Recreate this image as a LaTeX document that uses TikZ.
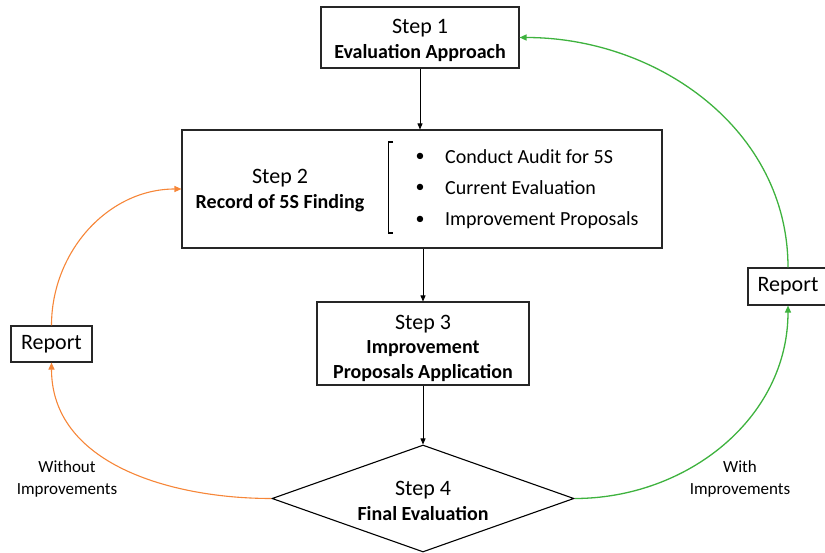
\documentclass[tikz,border=0pt]{standalone}
\usepackage{fontspec}
\setmainfont{Carlito}
\usetikzlibrary{shapes.geometric,arrows.meta}
\definecolor{orng}{RGB}{246,134,56}
\definecolor{grn}{RGB}{62,178,62}
\newcommand{\stepfont}{\fontsize{22}{25}\selectfont}
\newcommand{\boldfont}{\fontsize{20}{24}\selectfont\bfseries}
\begin{document}
\begin{tikzpicture}[x=1pt,y=-1pt,
  box/.style={draw=black!85,line width=1.1pt,rectangle,inner sep=0pt},
  intext/.style={inner sep=0pt,align=center,font=\fontsize{20}{25}\selectfont},
  flow/.style={draw=black,line width=0.8pt,-{Triangle[length=6pt,width=5pt]}},
  oarr/.style={draw=orng,line width=1.1pt,-{Triangle[length=7pt,width=6pt]}},
  garr/.style={draw=grn,line width=1.3pt,-{Triangle[length=7pt,width=6pt]}},
  lbl/.style={inner sep=0pt,align=center,font=\fontsize{17}{22}\selectfont},
  item/.style={inner sep=0pt,anchor=west,font=\fontsize{20}{24}\selectfont},
  bul/.style={inner sep=0pt,font=\fontsize{18}{20}\selectfont}]
\useasboundingbox (0,0) rectangle (825,552);

\node[box,minimum width=198pt,minimum height=61pt,
  label={[intext,yshift=-3pt]center:{{\stepfont Step 1}\\{\boldfont Evaluation Approach}}}] (s1) at (420,37.5) {};

\node[box,minimum width=480pt,minimum height=118pt] (s2) at (422,189) {};
\node[intext] (s2t) at (280,191) {{\stepfont Step 2}\\{\boldfont Record of 5S Finding}};
\draw[line width=1.2pt] (393,142) -- (388.5,142) -- (388.5,233) -- (393,233);
\node[bul] (b1) at (420,157) {\textbullet};
\node[bul] (b2) at (420,188) {\textbullet};
\node[bul] (b3) at (420,220) {\textbullet};
\node[item] (i1) at (445,157) {Conduct Audit for 5S};
\node[item] (i2) at (445,188) {Current Evaluation};
\node[item] (i3) at (445,220) {Improvement Proposals};

\node[box,minimum width=212pt,minimum height=83pt,
  label={[intext,font=\fontsize{20}{24.5}\selectfont,yshift=-4.5pt]center:{{\stepfont Step 3}\\{\boldfont Improvement}\\{\boldfont Proposals Application}}}] (s3) at (423,343.5) {};

\node[draw=black,line width=1.1pt,diamond,inner sep=0pt,
  minimum width=302pt,minimum height=107pt,
  label={[intext,yshift=-2.5pt]center:{{\stepfont Step 4}\\{\boldfont Final Evaluation}}}] (s4) at (423,498.5) {};

\node[box,minimum width=81pt,minimum height=36pt,font=\fontsize{22}{25}\selectfont] (rl) at (51.5,344) {Report};
\node[box,minimum width=80pt,minimum height=37pt,font=\fontsize{22}{25}\selectfont] (rr) at (788,286.5) {Report};

\node[lbl] (wo) at (67,479) {Without\\Improvements};
\node[lbl] (wi) at (740,479) {With\\Improvements};

\draw[flow] (s1.south) -- (s2.north -| s1.south);
\draw[flow] (s2.south -| s3.north) -- (s3.north);
\draw[flow] (s3.south) -- (s4.north);

\draw[oarr] (s4.west) to[out=180,in=-90] (rl.south);
\draw[oarr] (rl.north) to[out=90,in=180] (s2.west);
\draw[garr] (s4.east) to[out=0,in=-90] (rr.south);
\draw[garr] (rr.north) to[out=90,in=0] (s1.east);
\end{tikzpicture}
\end{document}
